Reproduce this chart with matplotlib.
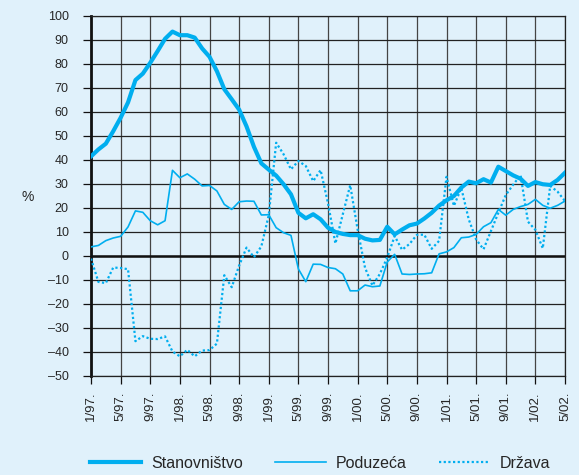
import matplotlib
matplotlib.use("Agg")
import matplotlib.pyplot as plt

# ---- data (monthly, 1/97 .. 5/02) ----
stanovnistvo = [41.5, 44.4, 46.8, 52.0, 57.6, 64.0, 73.3, 76.0, 80.5, 85.4,
                90.5, 93.5, 92.0, 92.0, 91.0, 86.5, 83.0, 77.0, 69.5, 65.3,
                61.0, 54.0, 45.5, 38.6, 36.0, 33.5, 29.9, 25.7, 18.0, 15.7,
                17.4, 15.3, 11.8, 10.0, 9.2, 8.7, 8.7, 7.2, 6.5, 6.7,
                12.2, 9.0, 11.0, 12.8, 13.5, 15.6, 18.0, 21.0, 23.2, 25.0,
                28.5, 31.0, 30.3, 32.0, 30.6, 37.2, 35.4, 33.6, 32.2, 29.2,
                30.8, 29.9, 29.6, 31.7, 34.7]
poduzeca = [3.8, 4.4, 6.4, 7.5, 8.2, 12.1, 18.8, 18.2, 14.7, 13.0,
            14.7, 35.7, 32.6, 34.2, 32.0, 29.2, 29.4, 27.1, 21.5, 19.4,
            22.6, 22.9, 22.8, 17.1, 17.2, 11.8, 9.7, 8.6, -5.4, -10.7,
            -3.4, -3.5, -4.8, -5.3, -7.5, -14.5, -14.5, -12.1, -12.8, -12.5,
            -2.5, 0.7, -7.5, -7.7, -7.5, -7.4, -7.0, 0.9, 1.7, 3.5,
            7.6, 7.9, 9.0, 12.2, 13.9, 19.4, 17.0, 19.4, 20.6, 21.5,
            23.6, 21.1, 19.9, 21.1, 22.9]
drzava = [-1.1, -10.8, -11.3, -4.8, -5.0, -5.5, -35.5, -33.4, -34.5, -34.6,
          -33.5, -39.8, -41.8, -39.1, -41.8, -39.4, -39.2, -36.5, -8.0, -13.0,
          -4.0, 3.5, -0.5, 4.0, 17.0, 47.2, 42.4, 36.1, 39.6, 37.5,
          31.2, 35.8, 22.0, 5.2, 17.4, 29.5, 11.0, -4.9, -12.3, -7.5,
          -0.6, 8.3, 2.6, 5.0, 8.8, 8.9, 3.0, 6.3, 33.0, 20.9,
          28.3, 15.3, 6.9, 2.8, 10.4, 18.0, 25.4, 29.7, 33.7, 14.3,
          10.9, 3.2, 29.2, 26.8, 22.9]
series_names = ["Stanovništvo", "Poduzeća", "Država"]
tick_labels = ["1/97.", "5/97.", "9/97.", "1/98.", "5/98.", "9/98.", "1/99.",
               "5/99.", "9/99.", "1/00.", "5/00.", "9/00.", "1/01.", "5/01.",
               "9/01.", "1/02.", "5/02."]
yticks = list(range(-50, 101, 10))

months = list(range(len(stanovnistvo)))
tick_pos = list(range(0, len(stanovnistvo), 4))

BG = "#e0f1fb"
LC = "#00aeef"
TXT = "#262626"
plt.rcParams["font.family"] = ["Liberation Sans", "DejaVu Sans"]

fig = plt.figure(figsize=(5.79, 4.75), dpi=100, facecolor=BG)
ax = fig.add_axes([91/579, 1-376/475, (565-91)/579, (376-16)/475])
ax.set_facecolor(BG)

ax.set_xlim(0, len(stanovnistvo)-1)
ax.set_ylim(-50, 100)
ax.set_xticks(tick_pos)
ax.set_xticklabels(tick_labels, rotation=90, fontsize=9.5, color=TXT)
ax.set_yticks(yticks)
ax.set_yticklabels([str(v).replace("-", "\u2013") for v in yticks], fontsize=9, color=TXT)
ax.tick_params(axis="both", direction="out", length=5.5, width=0.9, color="#111")
ax.tick_params(axis="y", pad=10.5)
ax.tick_params(axis="x", pad=5.5)

ax.grid(True, axis="y", color="#222222", linewidth=0.9)
ax.grid(True, axis="x", color="#444444", linewidth=0.9)
ax.set_axisbelow(True)
for s in ["top", "right", "bottom"]:
    ax.spines[s].set_color("#222222")
    ax.spines[s].set_linewidth(0.9)
ax.spines["left"].set_color("#111")
ax.spines["left"].set_linewidth(2.0)
ax.axhline(0, color="#111", linewidth=1.8, zorder=1.5)

l1, = ax.plot(months, stanovnistvo, color=LC, linewidth=3.0, solid_joinstyle="round", zorder=4)
l2, = ax.plot(months, poduzeca, color=LC, linewidth=1.2, zorder=3)
l3, = ax.plot(months, drzava, color=LC, linewidth=1.6, linestyle=(0, (1, 1.1)), zorder=3)

fig.text(22/579, 1-197/475, "%", fontsize=10, color=TXT, ha="left", va="center")

fig.legend([l1, l2, l3], series_names, loc="center", bbox_to_anchor=(320/579, 1-463/475),
           ncol=3, frameon=False, fontsize=11.5, handlelength=3.2, columnspacing=2.0,
           handletextpad=0.63, labelcolor=TXT)

fig.savefig("out.png", dpi=100, facecolor=BG)
